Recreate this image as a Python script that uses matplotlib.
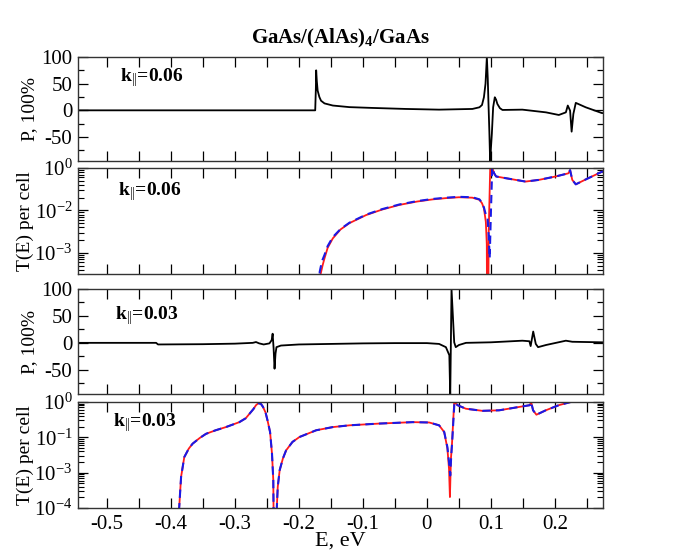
import numpy as np
import matplotlib
matplotlib.use("Agg")
import matplotlib.pyplot as plt
from matplotlib.ticker import MultipleLocator, FixedLocator, FixedFormatter, LogLocator, FuncFormatter, NullFormatter

plt.rcParams['font.family'] = ['Liberation Serif', 'DejaVu Serif']
plt.rcParams['mathtext.fontset'] = 'custom'
plt.rcParams['mathtext.rm'] = 'Liberation Serif'
plt.rcParams['mathtext.it'] = 'Liberation Serif:italic'
plt.rcParams['mathtext.bf'] = 'Liberation Serif:bold'
plt.rcParams['axes.unicode_minus'] = False

# k=0.06, polarization P (%)
e_p06 = [-0.545, -0.28, -0.1745, -0.1735, -0.173, -0.172, -0.1707, -0.168, -0.1654, -0.16,
         -0.147, -0.121, -0.085, -0.033, 0.019, 0.071, 0.082, 0.086, 0.089, 0.0915,
         0.0936, 0.095, 0.096, 0.0975, 0.0988, 0.1, 0.1014, 0.1034, 0.106, 0.108,
         0.110, 0.114, 0.118, 0.149, 0.186, 0.206, 0.217, 0.220, 0.2236, 0.226,
         0.2287, 0.2325, 0.248, 0.273, 0.275]
p06 = [0, 0, 0, 40, 75, 55, 37, 25, 18, 13,
       9, 6, 4.5, 2.6, 1.3, 2.6, 5.7, 10, 24.5, 50,
       100, 60, 18, -40, -100, -70, -44, 5.7, 24.5, 20,
       12, 4, 0.7, 1.3, -3.8, -8.7, -3.8, 9, -0.6, -40,
       -6.8, 14, 5.7, -5, -5.2]

# k=0.06, transmission (log10 T), red solid / blue dashed
e_t06_red = [-0.1675, -0.166, -0.163, -0.160, -0.155, -0.147, -0.135, -0.121, -0.095, -0.07,
             -0.043, -0.015, 0.009, 0.03, 0.050, 0.071, 0.082, 0.086, 0.089, 0.092,
             0.0935, 0.0946, 0.0965, 0.0988, 0.101, 0.105, 0.108, 0.123, 0.154, 0.175,
             0.201, 0.221, 0.2236, 0.227, 0.2325, 0.248, 0.273, 0.275]
lt06_red = [-6, -2.5, -2.3, -2.13, -1.88, -1.66, -1.45, -1.30, -1.11, -0.98,
            -0.87, -0.79, -0.74, -0.71, -0.69, -0.70, -0.75, -0.83, -0.95, -1.27,
            -1.8, -6, -1.5, -0.01, 0.05, -0.125, -0.2, -0.24, -0.32, -0.28,
            -0.2, -0.125, -0.05, -0.28, -0.385, -0.27, -0.09, -0.085]
e_t06_blue = [-0.169, -0.1675, -0.164, -0.160, -0.155, -0.147, -0.135, -0.121, -0.095, -0.07,
              -0.043, -0.015, 0.009, 0.03, 0.050, 0.071, 0.082, 0.086, 0.089, 0.092,
              0.0946, 0.0965, 0.098, 0.100, 0.102, 0.105, 0.108, 0.123, 0.154, 0.175,
              0.201, 0.221, 0.2236, 0.227, 0.2325, 0.248, 0.273, 0.275]
lt06_blue = [-6, -2.45, -2.2, -2.05, -1.84, -1.63, -1.44, -1.29, -1.10, -0.97,
             -0.86, -0.78, -0.73, -0.70, -0.68, -0.69, -0.74, -0.82, -0.93, -1.1,
             -1.15, -1.6, -2.13, -1.0, 0.02, -0.125, -0.2, -0.24, -0.32, -0.28,
             -0.2, -0.125, -0.05, -0.28, -0.385, -0.27, -0.09, -0.085]

# k=0.03, polarization P (%)
e_p03 = [-0.545, -0.423, -0.42, -0.35, -0.3, -0.272, -0.267, -0.262, -0.255, -0.246,
         -0.2425, -0.241, -0.2395, -0.238, -0.2365, -0.235, -0.228, -0.2, -0.15, -0.1,
         -0.05, 0.0, 0.019, 0.0296, 0.035, 0.0364, 0.0384, 0.0426, 0.045, 0.050,
         0.061, 0.1, 0.149, 0.16, 0.162, 0.166, 0.170, 0.1736, 0.186, 0.217,
         0.227, 0.273, 0.275]
p03 = [0, 0, -3, -2.5, -1.5, 0, 1.5, -1, -3, -1,
       5, 17, -10, -48, -20, -8, -5, -3, -2, -1,
       -0.5, -0.5, -2, -8, -23, -100, 100, 1, -8, -4,
       0, 1, 4, 3, -6, 21, -2, -8, -4, 4,
       2, 1, 1]

# k=0.03, transmission (log10 T)
e_t03_red = [-0.389, -0.387, -0.384, -0.379, -0.372, -0.366, -0.355, -0.345, -0.33, -0.314,
             -0.293, -0.283, -0.277, -0.271, -0.267, -0.263, -0.259, -0.256, -0.252, -0.249,
             -0.245, -0.242, -0.240, -0.238, -0.236, -0.2345, -0.233, -0.230, -0.225, -0.220,
             -0.21, -0.199, -0.173, -0.147, -0.121, -0.074, -0.022, 0.0036, 0.019, 0.027,
             0.032, 0.0345, 0.0359, 0.0375, 0.039, 0.0426, 0.0478, 0.0608, 0.0867, 0.1128,
             0.144, 0.1607, 0.1627, 0.1658, 0.171, 0.1856, 0.206, 0.2246, 0.24, 0.275]
lt03_red = [-6, -3.0, -2.12, -1.56, -1.32, -1.18, -1.02, -0.90, -0.80, -0.71,
            -0.57, -0.46, -0.33, -0.2, -0.09, -0.03, -0.06, -0.14, -0.30, -0.52,
            -0.85, -1.46, -2.2, -6, -6, -3.0, -2.4, -1.93, -1.6, -1.37,
            -1.13, -0.99, -0.80, -0.71, -0.66, -0.61, -0.57, -0.58, -0.66, -0.85,
            -1.32, -1.9, -2.69, -1.6, -1.23, 0.0, -0.09, -0.19, -0.25, -0.235,
            -0.14, -0.09, 0.0, -0.235, -0.36, -0.235, -0.09, 0.0, 0.1, 0.2]
e_t03_blue = [-0.389, -0.387, -0.384, -0.379, -0.372, -0.366, -0.355, -0.345, -0.33, -0.314,
              -0.293, -0.283, -0.277, -0.271, -0.267, -0.263, -0.259, -0.256, -0.252, -0.249,
              -0.245, -0.242, -0.240, -0.238, -0.236, -0.2345, -0.233, -0.230, -0.225, -0.220,
              -0.21, -0.199, -0.173, -0.147, -0.121, -0.074, -0.022, 0.0036, 0.019, 0.027,
              0.032, 0.0345, 0.0364, 0.038, 0.0395, 0.043, 0.0478, 0.0608, 0.0867, 0.1128,
              0.144, 0.1607, 0.1627, 0.1658, 0.171, 0.1856, 0.206, 0.2246, 0.24, 0.275]
lt03_blue = [-6, -3.0, -2.12, -1.56, -1.32, -1.18, -1.02, -0.90, -0.80, -0.71,
             -0.57, -0.46, -0.33, -0.2, -0.09, -0.03, -0.06, -0.14, -0.30, -0.52,
             -0.85, -1.46, -2.2, -6, -6, -3.0, -2.4, -1.93, -1.6, -1.37,
             -1.13, -0.99, -0.80, -0.71, -0.66, -0.61, -0.57, -0.58, -0.66, -0.85,
             -1.28, -1.7, -2.08, -1.5, -1.1, 0.0, -0.09, -0.19, -0.25, -0.235,
             -0.14, -0.09, 0.0, -0.235, -0.36, -0.235, -0.09, 0.0, 0.1, 0.2]

x_ticks = [-0.5, -0.4, -0.3, -0.2, -0.1, 0.0, 0.1, 0.2]
p_ticks = [-50, 0, 50, 100]
t06_ticks = [1, 0.1, 0.01]
t06_labels = ['$10^{0}$', '$10^{-2}$', '$10^{-3}$']
t03_ticks = [1, 0.1, 0.01, 0.001]
t03_labels = ['$10^{0}$', '$10^{-1}$', '$10^{-3}$', '$10^{-4}$']

fig = plt.figure(figsize=(6.85, 5.51), dpi=100)
W, H = 685.0, 551.0
left, right = 78, 603
rows = [(57, 161), (168, 274), (289, 394), (402, 508)]
axes = []
for top, bot in rows:
    ax = fig.add_axes([left / W, 1 - bot / H, (right - left) / W, (bot - top) / H])
    axes.append(ax)

red = '#ff1a1a'
blue = '#1a1ae6'


def style_x(ax, labels):
    ax.set_xlim(-0.545, 0.275)
    ax.xaxis.set_major_locator(FixedLocator(x_ticks))
    ax.xaxis.set_minor_locator(MultipleLocator(0.05))
    ax.tick_params(axis='x', which='both', direction='in', top=True, bottom=True,
                   length=7, width=0.9, labelsize=15, pad=5)
    if labels:
        ax.xaxis.set_major_formatter(FuncFormatter(lambda v, p: f"{v:g}"))
    else:
        ax.xaxis.set_major_formatter(NullFormatter())
    for s in ax.spines.values():
        s.set_linewidth(1.0)
        s.set_color('#333333')


def style_p(ax):
    ax.set_ylim(-95, 100)
    ax.yaxis.set_major_locator(FixedLocator(p_ticks))
    ax.yaxis.set_minor_locator(MultipleLocator(25))
    ax.tick_params(axis='y', which='major', direction='in', left=True, right=True,
                   length=7, width=0.9, labelsize=15, pad=4)
    ax.tick_params(axis='y', which='minor', direction='in', left=True, right=True,
                   length=4.5, width=0.9)
    ax.set_ylabel('P, 100%', fontsize=14, labelpad=2)


def style_t(ax, lo, ticks, labels):
    ax.set_yscale('log')
    ax.set_ylim(lo, 1)
    ax.yaxis.set_major_locator(FixedLocator(ticks))
    ax.yaxis.set_major_formatter(FixedFormatter(labels))
    ax.yaxis.set_minor_locator(LogLocator(base=10, subs=np.arange(2, 10), numticks=20))
    ax.yaxis.set_minor_formatter(NullFormatter())
    ax.tick_params(axis='y', which='major', direction='in', left=True, right=True,
                   length=7, width=0.9, labelsize=15, pad=4)
    ax.tick_params(axis='y', which='minor', direction='in', left=True, right=True,
                   length=4, width=0.8)
    ax.set_ylabel('T(E) per cell', fontsize=14, labelpad=0)


ax1, ax2, ax3, ax4 = axes

ax1.plot(e_p06, p06, color='black', lw=1.3)
style_x(ax1, False)
style_p(ax1)
ax1.text(0.08, 0.80, 'k$_{||}$=0.06', transform=ax1.transAxes, fontsize=14,
         fontweight='bold', va='center')

ax2.plot(e_t06_red, 10 ** np.array(lt06_red), color=red, lw=1.3)
ax2.plot(e_t06_blue, 10 ** np.array(lt06_blue), color=blue, lw=1.5, dashes=(4, 2.5))
style_x(ax2, False)
style_t(ax2, 10 ** -2.5, t06_ticks, t06_labels)
ax2.text(0.076, 0.78, 'k$_{||}$=0.06', transform=ax2.transAxes, fontsize=14,
         fontweight='bold', va='center')

ax3.plot(e_p03, p03, color='black', lw=1.3)
style_x(ax3, False)
style_p(ax3)
ax3.text(0.07, 0.75, 'k$_{||}$=0.03', transform=ax3.transAxes, fontsize=14,
         fontweight='bold', va='center')

ax4.plot(e_t03_red, 10 ** np.array(lt03_red), color=red, lw=1.3)
ax4.plot(e_t03_blue, 10 ** np.array(lt03_blue), color=blue, lw=1.5, dashes=(4, 2.5))
style_x(ax4, True)
style_t(ax4, 1e-3, t03_ticks, t03_labels)
ax4.text(0.067, 0.81, 'k$_{||}$=0.03', transform=ax4.transAxes, fontsize=14,
         fontweight='bold', va='center')
ax4.set_xlabel('E, eV', fontsize=16, labelpad=-2)

fig.text(0.497, 0.93, 'GaAs/(AlAs)$_\\mathbf{4}$/GaAs', ha='center', va='center',
         fontsize=15, fontweight='bold')

fig.savefig('out.png', dpi=100)
